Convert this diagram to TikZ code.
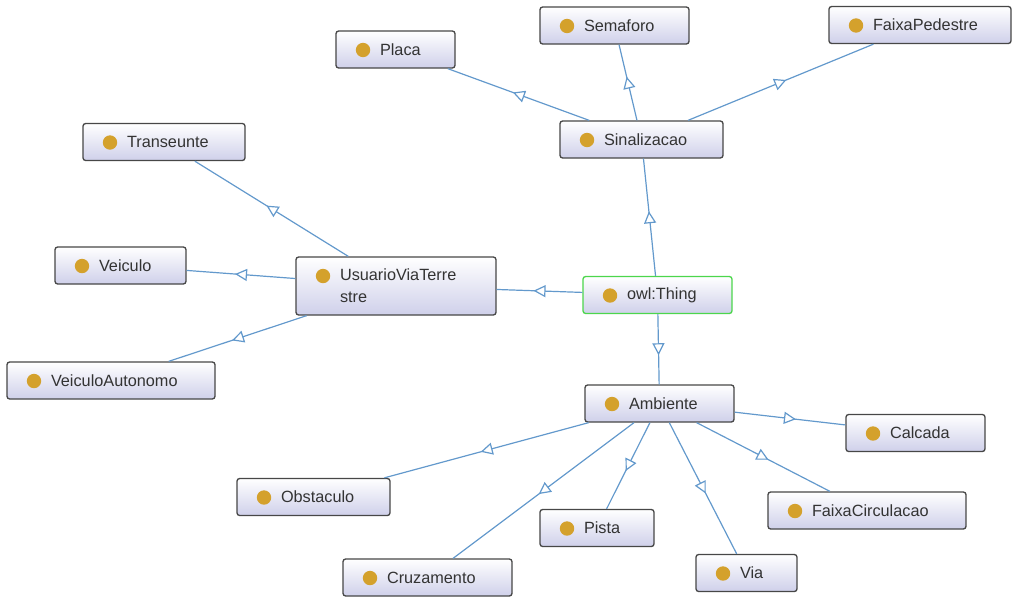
\documentclass[tikz,border=0pt]{standalone}
\usepackage{fontspec}
\setmainfont{Liberation Sans}
\usetikzlibrary{arrows.meta,decorations.markings}

\definecolor{edgeblue}{HTML}{6399CC}
\definecolor{classfill}{HTML}{CFD0EA}
\definecolor{classdot}{HTML}{D4A12C}
\definecolor{thinggreen}{HTML}{4CD64C}

\tikzset{
  cls/.style={rectangle, rounded corners=2pt, draw=black!72, line width=1pt,
    top color=white, bottom color=classfill, text=black!80,
    inner xsep=0pt, inner ysep=2pt, minimum height=27.75pt,
    text width=#1*0.75pt, align=left,
    font=\fontsize{12.2pt}{16.5pt}\selectfont,
    execute at begin node={\leftskip=33pt},
    path picture={\fill[classdot] ([xshift=20.25pt,yshift=-14.25pt]path picture bounding box.north west) circle (5.4pt);}},
  isa/.style={draw=edgeblue, line width=0.9pt, postaction={decorate},
    decoration={markings, mark=at position 0.5 with {\arrow[xshift=4.5pt]{Triangle[length=9pt,width=9pt,fill=white]}}}}
}

\begin{document}
\begin{tikzpicture}[x=0.75pt,y=-0.75pt]
  \useasboundingbox (0,0) rectangle (1012,596);

  %% root and the three main classes
  \node[cls=149, draw=thinggreen, line width=1pt] (thing) at (657.5,295) {owl:Thing};
  \node[cls=163] (sin) at (641.5,139.5) {Sinalizacao};
  \node[cls=200, minimum height=43.5pt] (usuario) at (396,286) {UsuarioViaTerre\\stre};
  \node[cls=149] (amb) at (659.5,403.5) {Ambiente};

  %% subclasses of Sinalizacao
  \node[cls=119] (placa) at (395.5,49.5) {Placa};
  \node[cls=149] (sema) at (614.5,25.5) {Semaforo};
  \node[cls=182] (faixaped) at (920,25) {FaixaPedestre};

  %% subclasses of UsuarioViaTerrestre
  \node[cls=162] (trans) at (164,142) {Transeunte};
  \node[cls=131] (veic) at (120.5,265.5) {Veiculo};
  \node[cls=208] (veicaut) at (111,380.5) {VeiculoAutonomo};

  %% subclasses of Ambiente
  \node[cls=139] (calc) at (915.5,433) {Calcada};
  \node[cls=198] (faixacirc) at (867,510.5) {FaixaCirculacao};
  \node[cls=101] (via) at (746.5,573) {Via};
  \node[cls=114] (pista) at (597,528) {Pista};
  \node[cls=169] (cruz) at (427.5,577.5) {Cruzamento};
  \node[cls=153] (obst) at (313.5,497) {Obstaculo};

  %% is-a links, parent to child
  \foreach \p/\c in {thing/sin, thing/usuario, thing/amb,
                     sin/placa, sin/sema, sin/faixaped,
                     usuario/trans, usuario/veic, usuario/veicaut,
                     amb/calc, amb/faixacirc, amb/via, amb/pista, amb/cruz, amb/obst}
  {
    \draw[isa] (\p) -- (\c);
  }
\end{tikzpicture}
\end{document}
